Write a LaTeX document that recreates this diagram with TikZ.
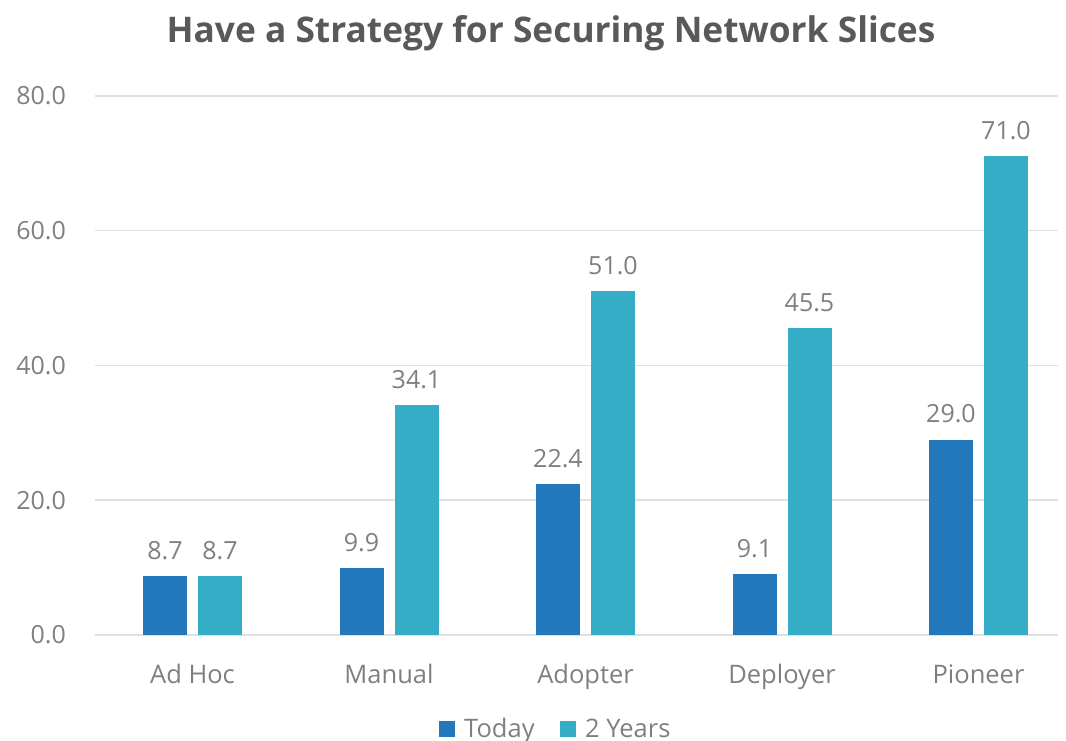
\documentclass[tikz,border=0pt]{standalone}
\usepackage{fontspec}
\setmainfont{Open Sans}
\definecolor{today}{HTML}{2377BB}
\definecolor{twoyr}{HTML}{36ADC7}
\definecolor{txt}{HTML}{7F7F7F}
\definecolor{ttl}{HTML}{595959}
\definecolor{grid}{HTML}{E0E0E0}
\begin{document}
\begin{tikzpicture}[x=1pt,y=-1pt,
  gridline/.style={draw=grid,line width=1.5pt},
  ylab/.style={anchor=east,text=txt,font=\fontsize{25}{29}\selectfont,inner sep=0pt},
  vlab/.style={anchor=south,text=txt,font=\fontsize{25}{29}\selectfont,inner sep=0pt},
  clab/.style={anchor=base,text=txt,font=\fontsize{25.5}{29}\selectfont,inner sep=0pt},
  bartoday/.style={fill=today,draw=none},
  baryr/.style={fill=twoyr,draw=none}]
\useasboundingbox (0,0) rectangle (1066,740);
\def\yz{635}
\def\sc{6.74}
% title
\node[anchor=base,text=ttl,font=\bfseries\fontsize{35.3}{40}\selectfont,inner sep=0pt] (title) at (551,42) {Have a Strategy for Securing Network Slices};
% grid
\foreach \v/\n/\t in {0/g0/0.0,20/g1/20.0,40/g2/40.0,60/g3/60.0,80/g4/80.0}{
  \draw[gridline] (95,{\yz-\sc*\v}) -- (1058,{\yz-\sc*\v});
  \node[ylab] (\n) at (66,{\yz-\sc*\v}) {\t};
}
% bars
\foreach \i/\name/\a/\b in {0/Ad Hoc/8.7/8.7,1/Manual/9.9/34.1,2/Adopter/22.4/51.0,3/Deployer/9.1/45.5,4/Pioneer/29.0/71.0}{
  \pgfmathsetmacro{\cx}{192.5+196.5*\i}
  \fill[bartoday] ({\cx-49.5},\yz) rectangle ({\cx-5.5},{\yz-\sc*\a});
  \fill[baryr] ({\cx+5.5},\yz) rectangle ({\cx+49.5},{\yz-\sc*\b});
  \node[vlab] (ta\i) at ({\cx-27.5},{\yz-\sc*\a-16}) {\a};
  \node[vlab] (tb\i) at ({\cx+27.5},{\yz-\sc*\b-16}) {\b};
  \node[clab] (c\i) at (\cx,683) {\name};
}
% legend
\fill[today] (439,721) rectangle (455,737);
\node[clab,anchor=base west] (l1) at (464,737) {Today};
\fill[twoyr] (560,721) rectangle (576,737);
\node[clab,anchor=base west] (l2) at (585,737) {2 Years};
\end{tikzpicture}
\end{document}
